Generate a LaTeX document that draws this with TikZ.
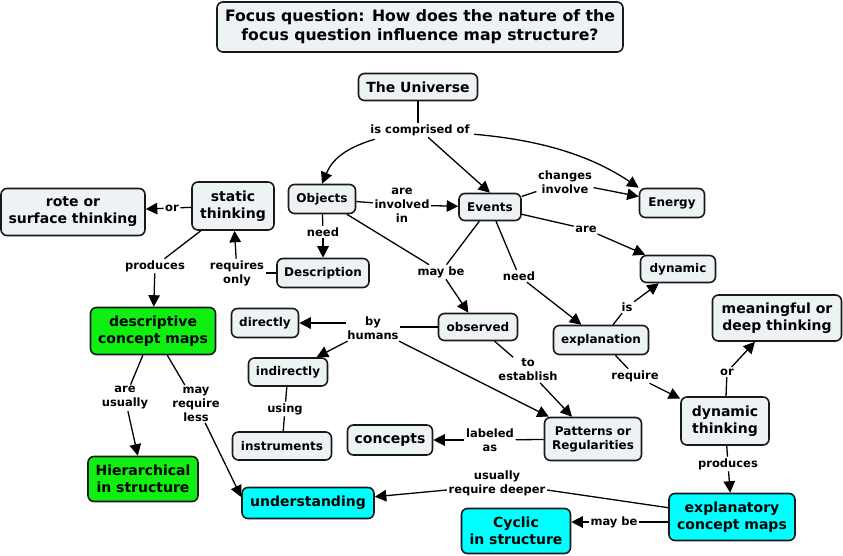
\documentclass[tikz,border=0pt]{standalone}
\usepackage{fontspec}
\setmainfont{DejaVu Sans}
\usetikzlibrary{arrows.meta}
\definecolor{cfill}{HTML}{EDF3F5}
\definecolor{cgreen}{HTML}{11EE11}
\definecolor{ccyan}{HTML}{00FFFF}
\tikzset{
  concept/.style={draw=black!90, line width=1.6pt, rounded corners=6pt, fill=cfill, align=center, inner sep=2pt, font=\bfseries\fontsize{12}{14}\selectfont},
  big/.style={font=\bfseries\fontsize{14}{17}\selectfont},
  green/.style={fill=cgreen},
  cyanb/.style={fill=ccyan},
  lab/.style={align=center, inner sep=1.5pt, font=\bfseries\fontsize{11.5}{14}\selectfont},
  ln/.style={line width=1.3pt},
  arr/.style={line width=1.3pt, -{Triangle[length=11.5pt,width=11.5pt]}},
}
\begin{document}
\begin{tikzpicture}[x=1pt,y=-1pt]
\useasboundingbox[fill=white] (0,0) rectangle (843,556);
% concepts
\node[concept, font=\bfseries\fontsize{15.7}{19}\selectfont, minimum width=406pt, minimum height=50pt] (title) at (420,27) {Focus question: How does the nature of the\\focus question influence map structure?};
\node[concept, big, minimum width=119pt, minimum height=27pt] (univ) at (418,87) {The Universe};
\node[concept, minimum width=67pt, minimum height=29pt] (obj) at (322,199) {Objects};
\node[concept, minimum width=62pt, minimum height=27pt] (ev) at (490,207) {Events};
\node[concept, minimum width=65pt, minimum height=29pt] (en) at (672,203) {Energy};
\node[concept, big, minimum width=82pt, minimum height=48pt] (stat) at (233,206) {static\\thinking};
\node[concept, big, minimum width=144pt, minimum height=47pt] (rote) at (73,212) {rote or\\surface thinking};
\node[concept, minimum width=92pt, minimum height=29pt] (desc) at (323,273) {Description};
\node[concept, big, green, minimum width=125pt, minimum height=47pt] (dcm) at (153,331) {descriptive\\concept maps};
\node[concept, big, green, minimum width=110pt, minimum height=45pt] (hier) at (143,479) {Hierarchical\\in structure};
\node[concept, minimum width=67pt, minimum height=29pt] (dir) at (265,323) {directly};
\node[concept, minimum width=79pt, minimum height=28pt] (ind) at (288,372) {indirectly};
\node[concept, minimum width=99pt, minimum height=28pt] (ins) at (282,446) {instruments};
\node[concept, big, minimum width=85pt, minimum height=30pt] (con) at (390,440) {concepts};
\node[concept, minimum width=79pt, minimum height=27pt] (obs) at (478,327) {observed};
\node[concept, minimum width=75pt, minimum height=27pt] (dyn) at (678,269) {dynamic};
\node[concept, minimum width=95pt, minimum height=29pt] (expl) at (601,340) {explanation};
\node[concept, minimum width=97pt, minimum height=43pt] (pat) at (593,439) {Patterns or\\Regularities};
\node[concept, big, minimum width=88pt, minimum height=48pt] (dth) at (725,421) {dynamic\\thinking};
\node[concept, big, minimum width=129pt, minimum height=46pt] (mean) at (777,318) {meaningful or\\deep thinking};
\node[concept, big, cyanb, minimum width=126pt, minimum height=47pt] (ecm) at (732,517) {explanatory\\concept maps};
\node[concept, big, cyanb, minimum width=109pt, minimum height=45pt] (cyc) at (516,531) {Cyclic\\in structure};
\node[concept, big, cyanb, minimum width=132pt, minimum height=31pt] (und) at (308,503) {understanding};
% link labels
\node[lab] (l1) at (420,130) {is comprised of};
\node[lab] (l2) at (402,205) {are\\involved\\in};
\node[lab] (l3) at (565,182) {changes\\involve};
\node[lab] (l4) at (586,229) {are};
\node[lab] (l5) at (323,232) {need};
\node[lab] (l6) at (441,272) {may be};
\node[lab] (l7) at (519,276) {need};
\node[lab] (l8) at (627,307) {is};
\node[lab] (l9) at (635,376) {require};
\node[lab] (l10) at (727,372) {or};
\node[lab] (l11) at (728,464) {produces};
\node[lab] (l12) at (614,522) {may be};
\node[lab] (l13) at (497,483) {usually\\require deeper};
\node[lab] (l14) at (373,328) {by\\humans};
\node[lab] (l15) at (285,409) {using};
\node[lab] (l16) at (528,370) {to\\establish};
\node[lab] (l17) at (490,440) {labeled\\as};
\node[lab] (l18) at (172,208) {or};
\node[lab] (l19) at (237,273) {requires\\only};
\node[lab] (l20) at (155,266) {produces};
\node[lab] (l21) at (125,398) {are\\usually};
\node[lab] (l22) at (196,404) {may\\require\\less};
% connectors
\draw[ln] (univ.south -| 418,0) -- (l1.north -| 418,0);
\draw[arr] (l1.south west) ++(6,2) .. controls (345,148) and (332,160) .. (obj.north);
\draw[arr] (l1.south) ++(8,0) -- (ev.north);
\draw[arr] (l1.south east) ++(3,-3) .. controls (540,140) and (590,155) .. (en.north west);
\draw[ln] (obj) -- (l2);
\draw[arr] (l2) -- (ev);
\draw[ln] (ev) -- (l3);
\draw[arr] (l3) -- (en);
\draw[ln] (ev) -- (l4);
\draw[arr] (l4) -- (dyn);
\draw[ln] (obj) -- (l5);
\draw[arr] (l5) -- (desc);
\draw[ln] (obj) -- (l6);
\draw[ln] (ev) -- (l6);
\draw[arr] (l6) -- (obs);
\draw[ln] (ev) -- (l7);
\draw[arr] (l7) -- (expl);
\draw[ln] (expl) -- (l8);
\draw[arr] (l8) -- (dyn);
\draw[ln] (expl) -- (l9);
\draw[arr] (l9) -- (dth);
\draw[ln] (dth) -- (l10);
\draw[arr] (l10) -- (mean);
\draw[ln] (dth) -- (l11);
\draw[arr] (l11) -- (ecm);
\draw[ln] (ecm.west |- l12) -- (l12);
\draw[arr] (l12) -- (cyc.east |- l12);
\draw[ln] (ecm) -- (l13.east |- 0,490);
\draw[arr] (l13.west |- 0,490) -- (und);
\draw[ln] (obs.west) -- (l14.east |- obs.west);
\draw[arr] (l14.west |- dir) -- (dir);
\draw[arr] (l14) -- (ind);
\draw[arr] (l14) -- (pat);
\draw[ln] (ind) -- (l15);
\draw[ln] (l15) -- (ins);
\draw[ln] (obs) -- (l16);
\draw[arr] (l16) -- (pat);
\draw[ln] (pat) -- (l17);
\draw[arr] (l17) -- (con);
\draw[ln] (stat) -- (l18);
\draw[arr] (l18) -- (rote);
\draw[ln] (desc) -- (l19);
\draw[arr] (l19) -- (stat);
\draw[ln] (stat) -- (l20);
\draw[arr] (l20) -- (dcm);
\draw[ln] (dcm) -- (l21);
\draw[arr] (l21) -- (hier);
\draw[ln] (dcm) -- (l22);
\draw[arr] (l22) -- ([yshift=6pt]und.west);
\end{tikzpicture}
\end{document}
